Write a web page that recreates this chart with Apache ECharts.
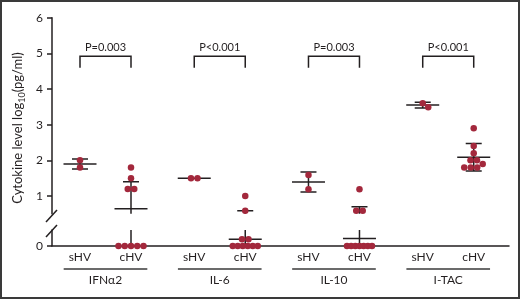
<!DOCTYPE html>
<html>
<head>
<meta charset="utf-8">
<script src="https://cdn.jsdelivr.net/npm/echarts@6/dist/echarts.min.js"></script>
<style>
  body { margin: 0; background: #fff; }
  #wrap { position: relative; width: 520px; height: 299px; }
  #chart { width: 520px; height: 299px; }
  #frame { position: absolute; left: 0; top: 0; width: 520px; height: 299px; box-sizing: border-box; border: 2px solid #3a3a3a; pointer-events: none; }
</style>
</head>
<body>
<div id="wrap"><div id="chart"></div><div id="frame"></div></div>
<script>
// categories
const groupNames = ['IFNα2', 'IL-6', 'IL-10', 'I-TAC'];
const cohortNames = ['sHV', 'cHV'];
const pLabels = ['P=0.003', 'P<0.001', 'P=0.003', 'P<0.001'];
const upperTicks = [1, 2, 3, 4, 5, 6];
const lowerTicks = [0];

// individual values, log10(pg/ml)
const ifnSHV = [2.0, 1.8];
const ifnCHV = [1.8, 1.5, 1.2, 1.2, 0, 0, 0, 0, 0];
const il6SHV = [1.5, 1.5];
const il6CHV = [1.0, 0.59, 0.19, 0.19, 0, 0, 0, 0, 0, 0];
const il10SHV = [1.59, 1.19];
const il10CHV = [1.19, 0.59, 0.59, 0, 0, 0, 0, 0, 0, 0];
const itacSHV = [3.6, 3.49];
const itacCHV = [2.9, 2.4, 2.2, 2.0, 2.0, 1.9, 1.8, 1.8, 1.8];

// mean and SD per column (sHV, cHV for each cytokine)
const means = [1.9, 0.64, 1.5, 0.19, 1.39, 0.21, 3.55, 2.09];
const sds = [0.14, 0.76, 0, 0.4, 0.28, 0.49, 0.08, 0.385];

const columns = [ifnSHV, ifnCHV, il6SHV, il6CHV, il10SHV, il10CHV, itacSHV, itacCHV];

// layout
const FONT = 'Lato';
const INK = '#231f20';
const DOT = '#a3283c';
const PITCH = 2.24;        // group spacing in x units
const PX_X = 51;           // px per x unit
const PX_Y = 35.67;        // px per log unit
const BREAK = 0.47;        // values below go to the lower panel

const slotX = (i) => Math.floor(i / 2) * PITCH + (i % 2);

// simple beeswarm: rows of equal values, shifted sideways if they hit earlier rows
function swarm(vals) {
  const placed = [];
  const out = [];
  const rows = [];
  vals.forEach((v) => {
    let r = rows.find((row) => row.v === v);
    if (!r) { r = { v: v, n: 0 }; rows.push(r); }
    r.n++;
  });
  rows.forEach((row) => {
    const gap = Math.min(6.5, row.n > 1 ? 25 / (row.n - 1) : 6.5);
    const base = [];
    for (let i = 0; i < row.n; i++) base.push((i - (row.n - 1) / 2) * gap);
    const ok = (s) => base.every((o) => placed.every((p) =>
      Math.hypot(o + s - p.x, (row.v - p.v) * PX_Y) >= 6.5));
    let shift = 0;
    for (let k = 0; k < 60; k++) {
      if (ok(k * 0.5)) { shift = k * 0.5; break; }
      if (ok(-k * 0.5)) { shift = -k * 0.5; break; }
    }
    base.forEach((o) => {
      placed.push({ x: o + shift, v: row.v });
      out.push([o + shift, row.v]);
    });
  });
  return out;
}

const upperDots = [], lowerDots = [];
columns.forEach((vals, i) => {
  swarm(vals).forEach(([off, v]) => {
    const pt = [slotX(i) + off / PX_X, v];
    (v >= BREAK ? upperDots : lowerDots).push(pt);
  });
});

const barData = means.map((m, i) => [slotX(i), m, sds[i]]);

function renderBar(params, api) {
  const x = api.value(0), m = api.value(1), sd = api.value(2);
  const pm = api.coord([x, m]);
  const st = { stroke: INK, lineWidth: 1.5 };
  const kids = [{ type: 'line', shape: { x1: pm[0] - 16.5, y1: pm[1], x2: pm[0] + 16.5, y2: pm[1] }, style: st }];
  if (sd > 0) {
    const pt = api.coord([x, m + sd]);
    const pb = api.coord([x, m - sd]);
    kids.push({ type: 'line', shape: { x1: pm[0], y1: pt[1], x2: pm[0], y2: pb[1] }, style: st });
    kids.push({ type: 'line', shape: { x1: pm[0] - 8, y1: pt[1], x2: pm[0] + 8, y2: pt[1] }, style: st });
    kids.push({ type: 'line', shape: { x1: pm[0] - 8, y1: pb[1], x2: pm[0] + 8, y2: pb[1] }, style: st });
  }
  return { type: 'group', children: kids };
}

const xMin = (52 - 80) / PX_X;
const xMax = (509 - 80) / PX_X;

const chart = echarts.init(document.getElementById('chart'));
chart.setOption({
  animation: false,
  textStyle: { fontFamily: FONT, color: INK },
  grid: [
    { left: 52, right: 11, top: 17.7, height: 196.15 },
    { left: 52, right: 11, top: 230, height: 16 }
  ],
  xAxis: [
    { type: 'value', gridIndex: 0, min: xMin, max: xMax, show: false },
    {
      type: 'value', gridIndex: 1, min: xMin, max: xMax,
      splitLine: { show: false }, axisTick: { show: false },
      axisLine: { onZero: false, lineStyle: { color: INK, width: 1.5 } },
      axisLabel: {
        customValues: columns.map((c, i) => slotX(i)),
        formatter: (v) => {
          const i = columns.findIndex((c, k) => Math.abs(slotX(k) - v) < 0.01);
          return i < 0 ? '' : cohortNames[i % 2];
        },
        fontFamily: FONT, fontSize: 12, color: INK, margin: 5
      }
    }
  ],
  yAxis: [
    {
      type: 'value', gridIndex: 0, min: 0.5, max: 6, splitLine: { show: false },
      axisLine: { show: true, onZero: false, lineStyle: { color: INK, width: 1.5 } },
      axisTick: { show: true, length: 5, customValues: upperTicks, lineStyle: { color: INK, width: 1.5 } },
      axisLabel: { customValues: upperTicks, fontFamily: FONT, fontSize: 12, color: INK, margin: 9 }
    },
    {
      type: 'value', gridIndex: 1, min: 0, max: 0.45, splitLine: { show: false },
      axisLine: { show: true, onZero: false, lineStyle: { color: INK, width: 1.5 } },
      axisTick: { show: true, length: 5, customValues: lowerTicks, lineStyle: { color: INK, width: 1.5 } },
      axisLabel: { customValues: lowerTicks, fontFamily: FONT, fontSize: 12, color: INK, margin: 9 }
    }
  ],
  series: [
    { type: 'custom', xAxisIndex: 0, yAxisIndex: 0, clip: true, data: barData, renderItem: renderBar, z: 2 },
    { type: 'custom', xAxisIndex: 1, yAxisIndex: 1, clip: true, data: barData, renderItem: renderBar, z: 2 },
    { type: 'scatter', xAxisIndex: 0, yAxisIndex: 0, data: upperDots, symbolSize: 6.5, itemStyle: { color: DOT, opacity: 1 }, z: 3 },
    { type: 'scatter', xAxisIndex: 1, yAxisIndex: 1, data: lowerDots, symbolSize: 6.5, itemStyle: { color: DOT, opacity: 1 }, z: 3 },
    {
      // significance brackets
      type: 'custom', xAxisIndex: 0, yAxisIndex: 0, clip: false,
      data: groupNames.map((g, i) => [i]),
      renderItem: (params, api) => {
        const g = api.value(0);
        const a = api.coord([g * PITCH, 4.6]);
        const b = api.coord([g * PITCH + 1, 4.92]);
        return {
          type: 'group', children: [
            { type: 'polyline', shape: { points: [[a[0], a[1]], [a[0], b[1]], [b[0], b[1]], [b[0], a[1]]] },
              style: { stroke: INK, lineWidth: 1.5, fill: null } },
            { type: 'text', x: (a[0] + b[0]) / 2, y: b[1] - 3,
              style: { text: pLabels[g], fontFamily: FONT, fontSize: 11, fill: INK, align: 'center', verticalAlign: 'bottom' } }
          ]
        };
      }
    },
    {
      // cytokine group labels under the axis
      type: 'custom', xAxisIndex: 1, yAxisIndex: 1, clip: false,
      data: groupNames.map((g, i) => [i]),
      renderItem: (params, api) => {
        const g = api.value(0);
        const c = api.coord([g * PITCH + 0.5, 0]);
        const half = 0.82 * PX_X;
        return {
          type: 'group', children: [
            { type: 'line', shape: { x1: c[0] - half, y1: c[1] + 23, x2: c[0] + half, y2: c[1] + 23 },
              style: { stroke: '#6b6b6b', lineWidth: 2 } },
            { type: 'text', x: c[0], y: c[1] + 34,
              style: { text: groupNames[g], fontFamily: FONT, fontSize: 12, fill: INK, align: 'center', verticalAlign: 'middle' } }
          ]
        };
      }
    }
  ],
  graphic: [
    {
      type: 'text', x: 19, y: 128, rotation: Math.PI / 2,
      style: {
        text: '{a|Cytokine level log}{b|10}{a|(pg/ml)}',
        align: 'center', verticalAlign: 'middle', fill: INK,
        rich: {
          a: { fontFamily: FONT, fontSize: 13, lineHeight: 16, verticalAlign: 'top', fill: INK },
          b: { fontFamily: FONT, fontSize: 9, lineHeight: 16, verticalAlign: 'bottom', fill: INK }
        }
      }
    },
    { type: 'line', shape: { x1: 46, y1: 222, x2: 57, y2: 210 }, style: { stroke: INK, lineWidth: 1.5 } },
    { type: 'line', shape: { x1: 46, y1: 237, x2: 57, y2: 225 }, style: { stroke: INK, lineWidth: 1.5 } }
  ]
});
</script>
</body>
</html>
